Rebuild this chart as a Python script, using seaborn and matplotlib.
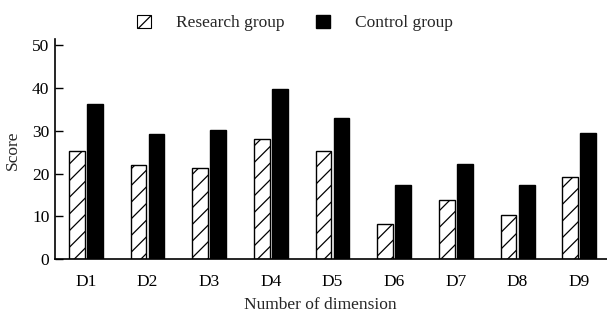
import matplotlib
matplotlib.use("Agg")
import matplotlib.pyplot as plt
import seaborn as sns
import pandas as pd
from matplotlib.patches import Patch

categories = ["D1", "D2", "D3", "D4", "D5", "D6", "D7", "D8", "D9"]
research = [25.2, 22.0, 21.3, 28.0, 25.2, 8.2, 13.7, 10.3, 19.2]
control = [36.2, 29.2, 30.2, 39.9, 32.9, 17.4, 22.2, 17.4, 29.5]
groups = ["Research group", "Control group"]
yticks = [0, 10, 20, 30, 40, 50]

sns.set_theme(style="ticks")
plt.rcParams["font.family"] = ["Liberation Serif", "DejaVu Serif"]
plt.rcParams["hatch.linewidth"] = 0.9

df = pd.DataFrame({
    "Dimension": categories * 2,
    "Score": research + control,
    "Group": [groups[0]] * len(categories) + [groups[1]] * len(categories),
})

fig = plt.figure(figsize=(6.07, 3.13), dpi=100)
ax = fig.add_axes([55 / 607, 1 - 259 / 313, 1 - 55 / 607, (259 - 39) / 313])

sns.barplot(data=df, x="Dimension", y="Score", hue="Group", order=categories,
            hue_order=groups, palette=["white", "black"], edgecolor="black",
            linewidth=1.0, width=0.585, gap=0.12, ax=ax, legend=False)

for bar in ax.containers[0]:
    bar.set_hatch("//")

fs = 12.5
ax.set_xlim(-0.5, 8.45)
ax.set_ylim(0, 51.5)
ax.set_yticks(yticks)
ax.tick_params(axis="y", direction="in", length=6, width=1.0, labelsize=fs, pad=4, colors="black")
ax.tick_params(axis="x", length=0, labelsize=fs, pad=11, colors="black")
for s in ["top", "right"]:
    ax.spines[s].set_visible(False)
for s in ["left", "bottom"]:
    ax.spines[s].set_linewidth(1.2)
    ax.spines[s].set_color("black")

ax.set_xlabel("")
ax.set_ylabel("")
fig.text(320 / 607, 1 - 305 / 313, "Number of dimension", ha="center", va="center", fontsize=fs)
fig.text(13 / 607, 1 - 150 / 313, "Score", ha="center", va="center", rotation=90, fontsize=fs)

handles = [Patch(facecolor="white", edgecolor="black", hatch="//", linewidth=0.8),
           Patch(facecolor="black", edgecolor="black")]
fig.legend(handles, groups, loc="center", bbox_to_anchor=(295 / 607, 1 - 23 / 313),
           ncol=2, frameon=False, fontsize=fs, handlelength=0.8, handleheight=0.8,
           handletextpad=1.45, columnspacing=1.85)

fig.savefig("out.png", dpi=100)
